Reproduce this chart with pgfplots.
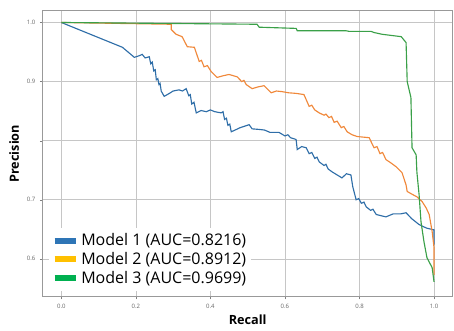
\documentclass[border=0pt]{standalone}
\usepackage{fontspec}
\setmainfont{Open Sans}
\usepackage{pgfplots}
\pgfplotsset{compat=1.18}
\usetikzlibrary{calc}
\definecolor{mblue}{RGB}{47,110,168}
\definecolor{morange}{RGB}{240,136,58}
\definecolor{mgreen}{RGB}{58,160,72}
\definecolor{lblue}{RGB}{46,117,182}
\definecolor{lyellow}{RGB}{255,192,0}
\definecolor{lgreen}{RGB}{0,176,80}
\begin{document}
\begin{tikzpicture}
\begin{axis}[
  scale only axis,
  width=307.5pt, height=214.5pt,
  xmin=-0.05, xmax=1.05, ymin=0.536, ymax=1.020,
  xtick={0,0.2,0.4,0.6,0.8,1.0},
  xticklabels={0.0,0.2,0.4,0.6,0.8,1.0},
  ytick={0.6,0.7,0.8,0.9,1.0},
  yticklabels={0.6,0.7,,0.9,1.0},
  tick label style={font=\fontsize{4.5}{5}\selectfont, text=gray!80!black},
  /pgf/number format/assume math mode=true,
  tick style={gray, major tick length=2pt},
  tick align=outside,
  xtick pos=bottom, ytick pos=left,
  grid=major,
  major grid style={gray!45, line width=0.5pt},
  axis line style={gray!80, line width=0.6pt},
  xlabel={\textbf{Recall}},
  ylabel={\textbf{Precision}},
  label style={font=\fontsize{9.5}{11}\selectfont},
  xlabel style={yshift=2pt},
  ylabel style={yshift=-1pt},
  legend style={at={(0.015,0.02)}, anchor=south west, draw=none, fill=white,
    font=\fontsize{12}{13.5}\selectfont, row sep=-0.5pt, inner sep=2pt},
  legend cell align=left,
  legend image code/.code={\draw[line width=4.5pt] (0cm,0cm) -- (0.55cm,0cm);},
]
\addlegendimage{lblue}
\addlegendentry{Model 1 (AUC=0.8216)}
\addlegendimage{lyellow}
\addlegendentry{Model 2 (AUC=0.8912)}
\addlegendimage{lgreen}
\addlegendentry{Model 3 (AUC=0.9699)}

% Model 1
\addplot[mblue, line width=0.85pt, forget plot] coordinates {
(0,1.0) (0.164,0.958) (0.196,0.941) (0.210,0.944) (0.217,0.946) (0.225,0.940) (0.236,0.942)
(0.240,0.930) (0.244,0.933) (0.248,0.918) (0.252,0.920) (0.255,0.903) (0.259,0.905) (0.262,0.895) (0.265,0.897) (0.268,0.884) (0.276,0.875)
(0.290,0.880) (0.300,0.884) (0.316,0.886) (0.325,0.884) (0.335,0.888) (0.342,0.876) (0.346,0.878)
(0.350,0.862) (0.356,0.865) (0.362,0.847) (0.375,0.851) (0.389,0.849) (0.400,0.852) (0.412,0.849)
(0.429,0.847) (0.434,0.849) (0.438,0.836) (0.443,0.838) (0.447,0.826) (0.452,0.828) (0.456,0.815) (0.480,0.822) (0.504,0.827)
(0.512,0.820) (0.531,0.819) (0.545,0.818) (0.560,0.814) (0.584,0.814) (0.600,0.808) (0.608,0.810)
(0.615,0.805) (0.630,0.802) (0.633,0.785) (0.645,0.790) (0.657,0.788) (0.665,0.778) (0.672,0.780)
(0.680,0.770) (0.686,0.772) (0.692,0.764) (0.705,0.758) (0.710,0.760) (0.716,0.752) (0.727,0.747) (0.740,0.742)
(0.753,0.737) (0.765,0.744) (0.777,0.742) (0.782,0.722) (0.791,0.700) (0.798,0.702) (0.805,0.694)
(0.812,0.696) (0.818,0.688) (0.830,0.682) (0.836,0.684) (0.845,0.675) (0.858,0.673) (0.871,0.671) (0.890,0.676)
(0.910,0.676) (0.925,0.678) (0.940,0.668) (0.960,0.658) (0.980,0.652) (1.0,0.649)
(1.0,0.624)
};
% Model 2
\addplot[morange, line width=0.85pt, forget plot] coordinates {
(0,1.0) (0.295,0.997) (0.295,0.988) (0.308,0.980) (0.324,0.976) (0.338,0.959)
(0.357,0.958) (0.370,0.934) (0.376,0.936) (0.383,0.925) (0.392,0.927) (0.402,0.917) (0.418,0.907) (0.435,0.910)
(0.450,0.912) (0.472,0.908) (0.484,0.900) (0.490,0.902) (0.496,0.895) (0.512,0.888) (0.528,0.891)
(0.544,0.893) (0.563,0.881) (0.577,0.884) (0.592,0.883) (0.610,0.881) (0.630,0.880)
(0.651,0.878) (0.665,0.858) (0.672,0.860) (0.680,0.852) (0.692,0.847) (0.705,0.843) (0.710,0.845) (0.718,0.839)
(0.725,0.841) (0.732,0.831) (0.740,0.833) (0.751,0.822) (0.758,0.824) (0.767,0.815) (0.780,0.810) (0.794,0.807) (0.810,0.806)
(0.826,0.805) (0.839,0.788) (0.847,0.790) (0.855,0.778) (0.862,0.780) (0.871,0.768) (0.885,0.762) (0.898,0.756)
(0.914,0.746) (0.925,0.725) (0.928,0.714) (0.942,0.709) (0.954,0.705) (0.968,0.697)
(0.979,0.686) (0.987,0.675) (0.995,0.646) (1.0,0.619) (1.0,0.573)
};
% Model 3
\addplot[mgreen, line width=0.85pt, forget plot] coordinates {
(0,1.0) (0.525,0.997) (0.531,0.992) (0.630,0.990) (0.633,0.986) (0.764,0.986)
(0.772,0.985) (0.831,0.985) (0.839,0.983) (0.861,0.980) (0.912,0.976) (0.925,0.966)
(0.928,0.900) (0.938,0.873) (0.941,0.788) (0.952,0.776) (0.954,0.747) (0.960,0.708)
(0.965,0.663) (0.973,0.629) (0.981,0.602) (0.995,0.585) (1.0,0.561)
};
\end{axis}
\pgfresetboundingbox
\path ($(current axis.south west)+(-32pt,-25.5pt)$) rectangle ($(current axis.north east)+(1pt,8pt)$);
\end{tikzpicture}
\end{document}
